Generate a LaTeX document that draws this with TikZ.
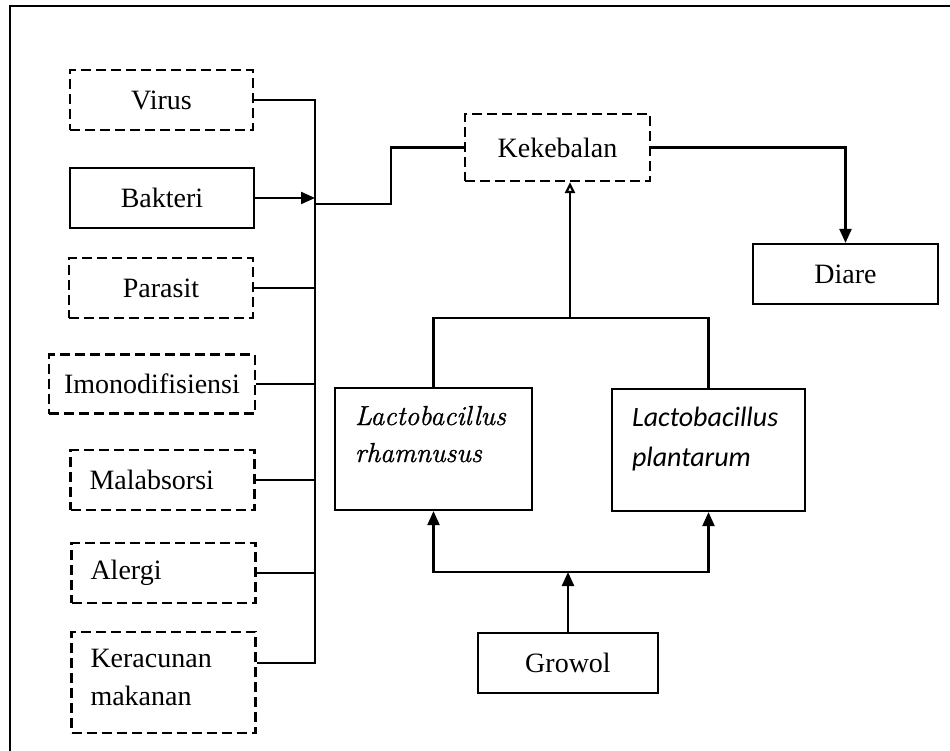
\documentclass[tikz,border=0pt]{standalone}
\usepackage{fontspec}
\setmainfont{Liberation Serif}
\newfontfamily\romanfont{Latin Modern Roman}[FakeBold=1]
\newfontfamily\calibrifont{Carlito}
\usetikzlibrary{arrows.meta}
\tikzset{
diagpic/.style={
  x=1pt,y=-1pt
    ,line width=2.2pt
    ,font=\fontsize{28}{37}\selectfont
}
,box/.style={draw=black,rectangle,inner sep=0pt,align=center
  ,minimum width=184pt,minimum height=60pt}
,dashbox/.style={box,dash pattern=on 10pt off 5pt}
,leftbox/.style={text width=146pt,align=left,inner xsep=19pt}
,speciesbox/.style={box,align=left,inner ysep=0pt,inner xsep=20pt
  ,text height=37pt,text depth=85pt}
,arr/.style={-{Triangle[length=14pt,width=12pt]}}
,openarr/.style={-{Triangle[open,length=11pt,width=10pt]}}
}

\begin{document}
\begin{tikzpicture}[diagpic]
  \useasboundingbox (0,0) rectangle (950,751);
  % frame
  \draw (950,6) -- (10,6) -- (10,751);
  % causes
  \node[dashbox,minimum width=183pt] (virus) at (161.5,100) {Virus};
  \node[box] (bakteri) at (162,198) {Bakteri};
  \node[dashbox] (parasit) at (161,288) {Parasit};
  \node[dashbox,minimum width=206pt,minimum height=59pt] (imono) at (152,384) {Imonodifisiensi};
  \node[dashbox,leftbox] (malab) at (162.5,480) {Malabsorsi};
  \node[dashbox,leftbox] (alergi) at (163.5,573) {Alergi};
  \node[dashbox,leftbox,inner ysep=0pt,text height=35pt,text depth=66pt
    ,font=\fontsize{28}{38}\selectfont] (keracunan) at (163.5,682.5)
    {Keracunan\\makanan};
  % middle and right
  \node[dashbox,minimum width=185pt,minimum height=67pt] (kekebalan) at (557.5,147.5) {Kekebalan};
  \node[box,minimum width=185pt] (diare) at (845.5,274) {Diare};
  \node[speciesbox,text width=157pt,font=\romanfont\itshape\fontsize{27.5}{37}\selectfont] (lr) at (433.5,449)
    {Lactobacillus\\rhamnusus};
  \node[speciesbox,text width=153pt,font=\calibrifont\itshape\fontsize{28}{40}\selectfont] (lp) at (708.5,450)
    {Lactobacillus\\plantarum};
  \node[box,minimum width=180pt] (growol) at (568,663) {Growol};
  % connectors
  \coordinate (bus) at (315,0);
  \coordinate (kerout) at ([yshift=19.5pt]keracunan.east);
  \draw (virus.east) -| (bus |- kerout) -- (kerout);
  \draw[arr] (bakteri.east) -- (bakteri.east -| bus);
  \draw (parasit.east) -- (parasit.east -| bus);
  \draw (imono.east) -- (imono.east -| bus);
  \draw (malab.east) -- (malab.east -| bus);
  \draw (alergi.east) -- (alergi.east -| bus);
  \coordinate (busout) at (bus |- 0,204);
  \draw (busout) -- ++(76,0) |- (kekebalan.west);
  \draw[arr] (kekebalan.east) -| (diare.north);
  \coordinate (topjoin) at (570,318);
  \draw (lr.north) |- (topjoin) -| (lp.north);
  \draw[openarr] (topjoin) -- (topjoin |- kekebalan.south);
  \coordinate (lowjoin) at (growol.north |- 0,572);
  \draw[arr] (lowjoin) -| (lr.south);
  \draw[arr] (lowjoin) -| (lp.south);
  \draw[arr] (growol.north) -- (lowjoin);
\end{tikzpicture}
\end{document}
